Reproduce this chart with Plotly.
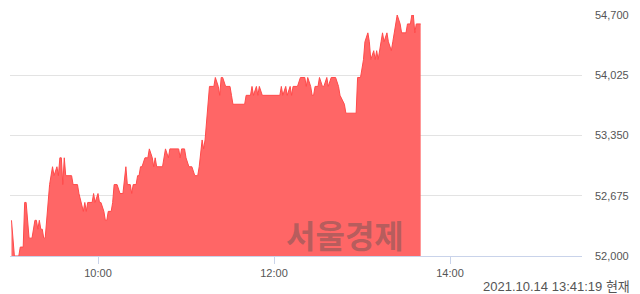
import plotly.graph_objects as go

DAY = "2021-10-14 "

times = [
    "09:01", "09:03", "09:06", "09:07", "09:09", "09:10", "09:11", "09:13", "09:15", "09:17",
    "09:18", "09:19", "09:20", "09:21", "09:22", "09:23", "09:24", "09:25", "09:27", "09:29",
    "09:30", "09:32", "09:33", "09:34", "09:35", "09:36", "09:37", "09:38", "09:41", "09:42",
    "09:43", "09:46", "09:47", "09:50", "09:51", "09:52", "09:53", "09:56", "09:57", "09:58",
    "10:00", "10:01", "10:02", "10:04", "10:05", "10:06", "10:07", "10:09", "10:10", "10:11",
    "10:13", "10:15", "10:17", "10:19", "10:20", "10:22", "10:23", "10:24", "10:26", "10:27",
    "10:28", "10:29", "10:30", "10:32", "10:34", "10:35", "10:37", "10:38", "10:39", "10:40",
    "10:44", "10:46", "10:48", "10:49", "10:55", "10:56", "10:57", "10:59", "11:00", "11:02",
    "11:04", "11:06", "11:08", "11:09", "11:11", "11:12", "11:13", "11:15", "11:16", "11:19",
    "11:20", "11:22", "11:23", "11:24", "11:25", "11:27", "11:30", "11:31", "11:32", "11:40",
    "11:41", "11:44", "11:45", "11:46", "11:48", "11:49", "11:50", "11:52", "12:04", "12:05",
    "12:06", "12:08", "12:09", "12:11", "12:12", "12:13", "12:16", "12:18", "12:21", "12:22",
    "12:23", "12:25", "12:26", "12:27", "12:28", "12:30", "12:31", "12:33", "12:34", "12:36",
    "12:37", "12:39", "12:42", "12:44", "12:45", "12:48", "12:49", "12:56", "12:57", "12:59",
    "13:01", "13:02", "13:04", "13:05", "13:06", "13:08", "13:09", "13:10", "13:11", "13:13",
    "13:14", "13:15", "13:17", "13:18", "13:20", "13:21", "13:23", "13:24", "13:26", "13:27",
    "13:30", "13:31", "13:33", "13:34", "13:35", "13:36", "13:37", "13:40",
]

prices = [
    52400, 52000, 52000, 52100, 52100, 52600, 52600, 52200, 52200, 52400,
    52400, 52300, 52400, 52300, 52300, 52200, 52200, 52400, 52800, 53000,
    52900, 53000, 52900, 53100, 53100, 52800, 53100, 52900, 52900, 52900,
    52800, 52800, 52700, 52500, 52600, 52500, 52600, 52600, 52700, 52600,
    52700, 52600, 52600, 52500, 52400, 52400, 52500, 52500, 52600, 52800,
    52800, 52700, 52700, 53000, 52800, 52800, 52700, 52800, 52800, 52900,
    52900, 53000, 53000, 53100, 53100, 53200, 53100, 53000, 53100, 53000,
    53000, 53200, 53100, 53200, 53200, 53100, 53200, 53200, 53100, 53000,
    53000, 52900, 52900, 53000, 53300, 53200, 53300, 53700, 53900, 53900,
    54000, 53900, 53800, 54000, 54000, 53900, 53900, 53800, 53700, 53700,
    53800, 53800, 53900, 53800, 53900, 53800, 53900, 53800, 53800, 53900,
    53800, 53900, 53800, 53900, 53800, 53900, 53900, 54000, 54000, 53900,
    54000, 53900, 53800, 53800, 53900, 53900, 54000, 53900, 53900, 54000,
    53900, 54000, 54000, 53900, 53800, 53700, 53600, 53600, 54000, 54000,
    54200, 54400, 54500, 54400, 54200, 54300, 54200, 54300, 54200, 54400,
    54500, 54400, 54500, 54400, 54300, 54400, 54600, 54700, 54600, 54500,
    54500, 54600, 54600, 54700, 54700, 54500, 54600, 54600,
]

y_ticks = [52000, 52675, 53350, 54025, 54700]
y_tick_labels = ["52,000", "52,675", "53,350", "54,025", "54,700"]
x_ticks = ["10:00", "12:00", "14:00"]
x_range = ["09:00", "15:30"]
watermark = "서울경제"
stamp = "2021.10.14 13:41:19 현재"

fig = go.Figure()
fig.add_trace(go.Scatter(
    x=[DAY + t for t in times],
    y=prices,
    mode="lines",
    line=dict(color="#ff4a4a", width=1),
    fill="tozeroy",
    fillcolor="#ff6666",
    hoverinfo="skip",
))

axis_blue = "#c9d3ea"
fig.update_layout(
    width=640, height=294,
    margin=dict(l=10, r=58, t=9, b=38),
    paper_bgcolor="white",
    plot_bgcolor="white",
    showlegend=False,
    font=dict(family="Liberation Sans, Arial, sans-serif", size=11, color="#555555"),
    xaxis=dict(
        range=[DAY + x_range[0], DAY + x_range[1]],
        tickvals=[DAY + t for t in x_ticks],
        ticktext=x_ticks,
        showgrid=False,
        zeroline=False,
        showline=True,
        linecolor=axis_blue,
        linewidth=1,
        ticks="outside",
        ticklen=7,
        tickcolor=axis_blue,
        tickwidth=1,
        tickfont=dict(size=11, color="#555555"),
    ),
    yaxis=dict(
        range=[y_ticks[0], y_ticks[-1]],
        side="right",
        tickvals=y_ticks,
        ticktext=y_tick_labels,
        showgrid=True,
        gridcolor="#e3e3e3",
        gridwidth=1,
        zeroline=False,
        showline=False,
        ticks="",
        ticklabelstandoff=12,
        tickfont=dict(size=11, color="#555555"),
    ),
    annotations=[
        dict(
            text="<b>" + watermark + "</b>",
            xref="paper", yref="paper",
            x=(345 - 10) / 572, y=(256 - 233) / 247,
            xanchor="center", yanchor="middle",
            showarrow=False,
            font=dict(family="Noto Sans CJK KR", size=32, color="rgba(80,80,80,0.42)"),
        ),
        dict(
            text=stamp,
            xref="paper", yref="paper",
            x=(632 - 10) / 572, y=-(287 - 256) / 247,
            xanchor="right", yanchor="middle",
            showarrow=False,
            font=dict(family="Liberation Sans, Noto Sans CJK KR, sans-serif", size=13, color="#555555"),
        ),
    ],
)

fig.write_html("out.html")
